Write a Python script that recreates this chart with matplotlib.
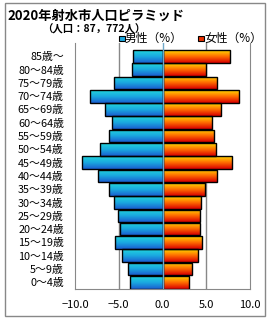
import numpy as np
import matplotlib.pyplot as plt
from matplotlib.colors import LinearSegmentedColormap

plt.rcParams['font.family'] = ['Noto Sans CJK JP', 'DejaVu Sans']

# 年齢階級（下から上）
ages = ['0～4歳', '5～9歳', '10～14歳', '15～19歳', '20～24歳', '25～29歳',
        '30～34歳', '35～39歳', '40～44歳', '45～49歳', '50～54歳', '55～59歳',
        '60～64歳', '65～69歳', '70～74歳', '75～79歳', '80～84歳', '85歳～']
male = [3.7, 3.9, 4.65, 5.4, 4.9, 5.1, 5.55, 6.1, 7.4, 9.2,
        7.15, 6.1, 5.75, 6.6, 8.3, 5.6, 3.5, 3.35]
female = [3.07, 3.4, 4.1, 4.55, 4.32, 4.32, 4.43, 4.9, 6.25, 7.95,
          6.14, 5.9, 5.7, 6.7, 8.75, 6.2, 4.93, 7.77]
xticks = [-10, -5, 0, 5, 10]
xtick_labels = ['−10.0', '−5.0', '0.0', '5.0', '10.0']

cmap_m = LinearSegmentedColormap.from_list('m', ['#1a5fd0', '#1aa8e0', '#22d6dc'])
cmap_f = LinearSegmentedColormap.from_list('f', ['#d80000', '#ff6a00', '#ffd800'])

fig = plt.figure(figsize=(2.7, 3.2), dpi=100)
ax = fig.add_axes([75 / 270, 1 - 289 / 320, 175 / 270, 246 / 320])

y = np.arange(len(ages))
grad = np.linspace(0, 1, 32).reshape(-1, 1)


def gradient_bars(values, cmap):
    bars = ax.barh(y, values, height=0.95, facecolor='none',
                   edgecolor='black', linewidth=1.0, zorder=3)
    for b in bars:
        x0, y0 = b.get_x(), b.get_y()
        w, h = b.get_width(), b.get_height()
        im = ax.imshow(grad, cmap=cmap, aspect='auto', origin='lower',
                       extent=[x0, x0 + w, y0, y0 + h], zorder=2)
        im.set_clip_path(b)


gradient_bars([-v for v in male], cmap_m)
gradient_bars(female, cmap_f)
ax.axvline(0, color='#6fa8c8', lw=1, zorder=4)

ax.set_xlim(-10, 10)
ax.set_ylim(-0.5, 18.0)
ax.set_xticks(xticks)
ax.set_xticklabels(xtick_labels, fontsize=8)
ax.set_yticks(y)
ax.set_yticklabels(ages, fontsize=7.8)
ax.tick_params(length=0)
ax.tick_params(axis='y', pad=8)
ax.tick_params(axis='x', pad=8)
for xv in [-5, 5]:
    ax.axvline(xv, color='#888888', lw=1, zorder=1)
ax.spines['top'].set_visible(False)
for s in ['left', 'right', 'bottom']:
    ax.spines[s].set_color('#888888')

# 凡例
fig.patches.append(plt.Rectangle((119 / 270, 1 - 41 / 320), 6 / 270, 5 / 320,
                                 transform=fig.transFigure, facecolor='#1aa8e0',
                                 edgecolor='black', lw=0.8))
fig.text(125 / 270, 1 - 38.5 / 320, '男性（%）', fontsize=8.5, va='center')
fig.patches.append(plt.Rectangle((198 / 270, 1 - 41 / 320), 6 / 270, 5 / 320,
                                 transform=fig.transFigure, facecolor='#e83000',
                                 edgecolor='black', lw=0.8))
fig.text(204 / 270, 1 - 38.5 / 320, '女性（%）', fontsize=8.5, va='center')

fig.text(7 / 270, 1 - 15.5 / 320, '2020年射水市人口ピラミッド', fontsize=9.5,
         fontweight='bold', va='center')
fig.text(42 / 270, 1 - 29 / 320, '（人口：87，772人）', fontsize=7.5,
         fontweight='bold', va='center')

fig.patches.append(plt.Rectangle((5 / 270, 4 / 320), 260 / 270, 313 / 320,
                                 transform=fig.transFigure, facecolor='none',
                                 edgecolor='#888888', lw=1))

fig.savefig('out.png', dpi=100)
